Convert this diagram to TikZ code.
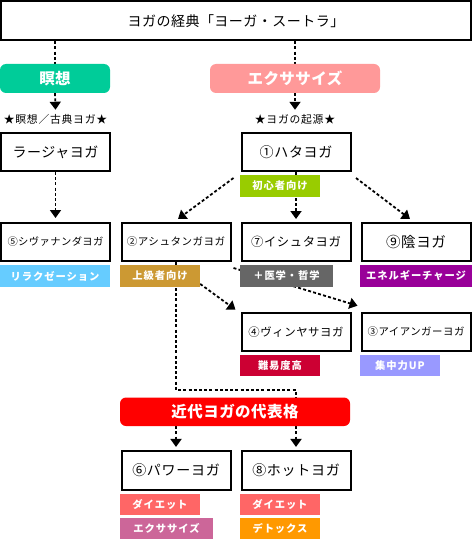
\documentclass[tikz,border=0pt]{standalone}
\usepackage{fontspec}
\setmainfont{Noto Sans CJK JP}
\usetikzlibrary{arrows.meta,calc}
\pgfdeclarelayer{bg}
\pgfsetlayers{bg,main}
\definecolor{cMedi}{HTML}{00CC99}
\definecolor{cExer}{HTML}{FF9999}
\definecolor{cBeg}{HTML}{99CC00}
\definecolor{cRelax}{HTML}{66CCFF}
\definecolor{cAdv}{HTML}{CC9933}
\definecolor{cMed}{HTML}{666666}
\definecolor{cEnergy}{HTML}{990099}
\definecolor{cHard}{HTML}{CC0033}
\definecolor{cFocus}{HTML}{9999FF}
\definecolor{cModern}{HTML}{FF0000}
\definecolor{cDiet}{HTML}{FF6666}
\definecolor{cExer2}{HTML}{CC6699}
\definecolor{cDetox}{HTML}{FF9900}
\newcommand{\jfs}[2]{\fontsize{#1}{#1}\selectfont\addfontfeature{LetterSpace=#2}}
\tikzset{
  ybox/.style={draw, line width=2pt, minimum width=109pt, minimum height=38pt, inner sep=0pt, text=black},
  ytag/.style={fill=#1, text=white, minimum height=21.5pt, inner sep=0pt, font={\bfseries\jfs{10.3}{9}}},
  ypill/.style={fill=#1, rounded corners=6pt, text=white, minimum height=29pt, inner sep=0pt, font={\bfseries\jfs{15.5}{3}}},
  ystar/.style={inner xsep=0pt, inner ysep=4pt, font={\jfs{10.8}{7}}},
  dl/.style={line width=1.8pt, dash pattern=on 3pt off 2.2pt},
  arr/.style={dl, -{Triangle[width=11pt,length=8pt]}}
}
\begin{document}
\begin{tikzpicture}[x=1pt,y=-1pt]
\useasboundingbox (0,0) rectangle (472,540);
% top
\node[ybox, minimum width=470pt, minimum height=39pt, font={\jfs{14}{3.5}}] (title) at (236,20.7) {ヨガの経典「ヨーガ・スートラ」};
\node[ypill=cMedi, minimum width=110pt] (medi) at (55,78.5) {瞑想};
\node[ypill=cExer, minimum width=170pt] (exer) at (295,78.5) {エクササイズ};
\node[ystar] (s1) at (55.5,119) {★瞑想／古典ヨガ★};
\node[ystar] (s2) at (295,119) {★ヨガの起源★};
\node[ybox, font={\jfs{14}{4}}] (raja) at (55.5,152) {ラージャヨガ};
\node[ybox, font={\jfs{14}{5}}] (hata) at (296,152) {①ハタヨガ};
\node[ytag=cBeg, minimum width=80pt] (beg) at (280,186) {初心者向け};
% row 2
\node[ybox, font={\jfs{10.3}{4}}] (shiva) at (55.5,242) {⑤シヴァナンダヨガ};
\node[ybox, font={\jfs{10.5}{5}}] (ashtanga) at (176,242) {②アシュタンガヨガ};
\node[ybox, font={\jfs{12.3}{5}}] (ishta) at (296,242) {⑦イシュタヨガ};
\node[ybox, font={\jfs{14.5}{4}}] (yin) at (416,242) {⑨陰ヨガ};
\node[ytag=cRelax, minimum width=110pt] (relax) at (55,276) {リラクゼーション};
\node[ytag=cAdv, minimum width=80pt] (adv) at (160,276) {上級者向け};
\node[ytag=cMed, minimum width=93pt] (igaku) at (286.5,276) {＋医学・哲学};
\node[ytag=cEnergy, minimum width=112pt] (energy) at (416,276) {エネルギーチャージ};
% row 3
\node[ybox, font={\jfs{11.4}{5}}] (vinyasa) at (296,331.7) {④ヴィンヤサヨガ};
\node[ybox, font={\jfs{10.4}{5}}] (iyengar) at (416,331.7) {③アイアンガーヨガ};
\node[ytag=cHard, minimum width=80pt] (hard) at (280,365.5) {難易度高};
\node[ytag=cFocus, minimum width=80pt] (focus) at (400,365.5) {集中力UP};
% modern
\node[ypill=cModern, minimum width=230pt, minimum height=28.5pt, font={\bfseries\jfs{15.5}{3}}] (modern) at (235,411.75) {近代ヨガの代表格};
\node[ybox, minimum height=38.7pt, font={\jfs{14}{5}}] (power) at (176,470.3) {⑥パワーヨガ};
\node[ybox, minimum height=38.7pt, font={\jfs{14}{5}}] (hot) at (296,470.3) {⑧ホットヨガ};
\node[ytag=cDiet, minimum width=80pt] (diet1) at (160,504.5) {ダイエット};
\node[ytag=cExer2, minimum width=93pt] (exer2) at (166.5,528.5) {エクササイズ};
\node[ytag=cDiet, minimum width=80pt] (diet2) at (280,504.5) {ダイエット};
\node[ytag=cDetox, minimum width=80pt] (detox) at (280,528.5) {デトックス};
% connectors
\begin{pgfonlayer}{bg}
\draw[dl] (medi.north |- title.south) -- (medi.north);
\draw[dl] (exer.north |- title.south) -- (exer.north);
\draw[arr] (medi.south) -- (s1.north);
\draw[arr] (exer.south) -- (s2.north);
\draw[arr, shorten >=4pt] (raja.south) -- (shiva.north);
\draw[arr, shorten >=3pt] (hata.south) -- (ishta.north);
\draw[arr] ($(hata.south west)+(-7,6)$) -- ($(ashtanga.north)+(2,-3)$);
\draw[arr] ($(hata.south east)+(4.5,6)$) -- ($(yin.north)+(-6,-3)$);
\draw[arr] ($(ashtanga.south east)+(2,6)$) -- ($(iyengar.north west)+(-3,-6)$);
\draw[arr] ($(adv.south east)+(0,-3)$) -- ($(vinyasa.north west)+(-5,-2)$);
\draw[dl] (ashtanga.south) |- ([yshift=7.5pt]hot.north |- modern.north) -- (hot.north |- modern.north);
\draw[arr, shorten >=3pt] (power.north |- modern.south) -- (power.north);
\draw[arr, shorten >=3pt] (hot.north |- modern.south) -- (hot.north);
\end{pgfonlayer}
\end{tikzpicture}
\end{document}
